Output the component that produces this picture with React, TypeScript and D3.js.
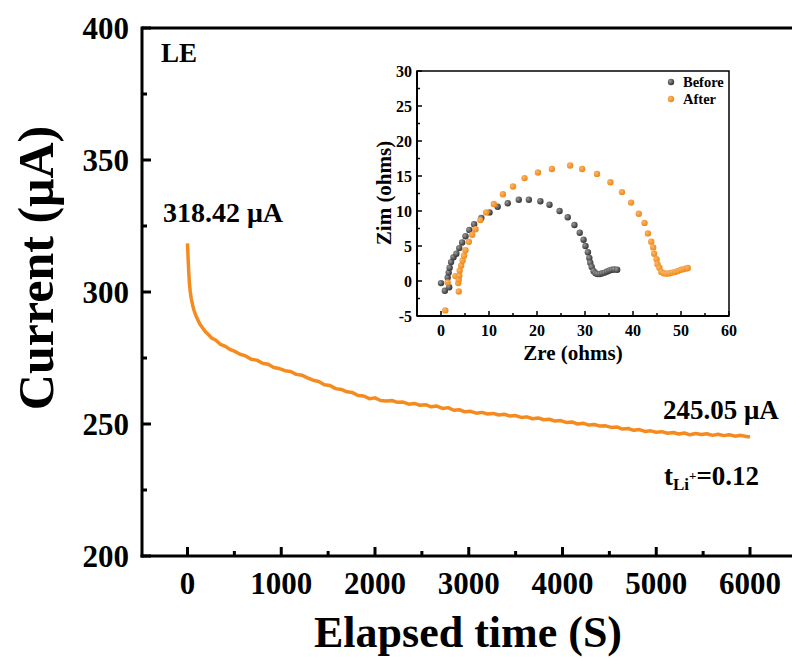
import React from "react";
import * as d3 from "d3";

const timeS = [0,5,10,15,20,30,40,55,70,90,110,130,160,190,220,260,300,350,400,450,500,560,620,680,740,800,860,920,980,1040,1100,1160,1220,1280,1340,1400,1460,1520,1580,1640,1700,1760,1820,1880,1940,2000,2060,2120,2180,2240,2300,2360,2420,2480,2540,2600,2660,2720,2780,2840,2900,2960,3020,3080,3140,3200,3260,3320,3380,3440,3500,3560,3620,3680,3740,3800,3860,3920,3980,4040,4100,4160,4220,4280,4340,4400,4460,4520,4580,4640,4700,4760,4820,4880,4940,5000,5060,5120,5180,5240,5300,5360,5420,5480,5540,5600,5660,5720,5780,5840,5900,5960,6000];
const currentUA = [318.42,314,310,306.5,303.5,300,297.5,295,293,291,289.5,288,286.5,285,284,282.5,281.8,280.2,279.5,278.3,277.6,276.4,275.8,274.5,274.2,273,272.6,271.4,271,270.2,269.9,268.8,268.5,267.5,266.6,266.1,264.9,264.6,263.4,263.1,262.2,261.9,260.8,260.6,259.6,259.9,258.9,258.7,258.9,258.2,258.3,257.5,257.8,257.1,257.3,256.5,256.8,255.9,256.2,255.2,255.4,254.6,254.8,254.1,254.4,253.8,254.0,253.4,253.7,253.0,253.2,252.5,252.7,252.0,252.3,251.6,251.8,251.1,251.3,250.6,250.8,250.0,250.3,249.6,249.8,249.2,249.3,248.7,248.9,248.1,248.3,247.6,247.9,247.2,247.4,246.9,247.1,246.5,246.8,246.2,246.6,245.9,246.4,246.0,246.3,245.7,246.1,245.6,245.9,245.4,245.7,245.3,245.05];

const xTicks = [0,1000,2000,3000,4000,5000,6000];
const yTicks = [200,250,300,350,400];

const beforeZre = [0,0.8,1.7,1.4,1.6,1.8,2.1,2.6,3.2,3.8,4.4,5.1,5.9,6.9,8.4,10.1,11.8,13.9,16.2,18.3,20.7,22.6,24.7,26.4,27.8,28.9,29.7,30.1,30.6,30.9,31.1,31.4,31.8,32.2,32.6,33.1,33.6,34.1,34.6,35.1,35.6,36.1,36.7];
const beforeZim = [-0.3,-1.4,-0.9,0.5,1.2,1.9,2.7,3.4,3.9,4.7,5.5,6.4,7.3,8.1,9.0,9.8,10.6,11.1,11.6,11.6,11.4,10.9,10.0,9.1,8.0,6.9,5.9,5.0,4.1,3.3,2.6,2.0,1.4,1.1,1.0,1.0,1.1,1.2,1.35,1.5,1.6,1.65,1.6];
const afterZre = [0.9,1.4,3.7,3.0,3.6,3.7,3.8,3.9,4.2,4.5,4.8,5.1,5.8,6.5,7.2,8.2,9.4,11.0,12.9,15.0,17.4,20.2,23.1,26.9,29.4,32.5,35.3,37.7,39.6,41.2,42.4,43.1,43.8,44.2,44.4,44.9,45.1,45.5,45.9,46.4,47.0,47.6,48.2,48.8,49.4,50.0,50.6,51.1,51.4];
const afterZim = [-4.2,-0.2,-1.5,0.7,-0.3,0.2,0.8,1.5,2.2,2.9,3.6,4.4,5.6,6.6,7.4,8.7,9.8,11.0,12.4,13.5,14.7,15.5,16.0,16.5,16.0,15.3,14.1,12.7,11.2,9.6,8.3,6.8,5.6,4.8,3.9,3.1,2.4,1.9,1.3,1.1,1.05,1.1,1.2,1.3,1.45,1.6,1.7,1.8,1.85];
const insetXTicks = [0,10,20,30,40,50,60];
const insetYTicks = [-5,0,5,10,15,20,25,30];

const FONT = "'Liberation Serif', 'Times New Roman', serif";
const ORANGE = "#F58B1F";

export default function App() {
  const x = d3.scaleLinear().domain([0, 6000]).range([187.5, 750]);
  const y = d3.scaleLinear().domain([200, 400]).range([556, 28]);
  const left = 142;
  const bottom = 556;
  const top = 28;
  const right = 800;

  const line = d3.line<number>()
    .x((_, i) => x(timeS[i]))
    .y((d) => y(d));

  const xMinor = d3.range(-500, 6600, 500).filter((v) => v % 1000 !== 0 && x(v) > left);
  const yMinor = [225, 275, 325, 375];

  const ix = d3.scaleLinear().domain([-5, 60]).range([417, 729]);
  const iy = d3.scaleLinear().domain([-5, 30]).range([316, 71]);
  const ixMinor = [-5, 5, 15, 25, 35, 45, 55];
  const iyMinor = d3.range(-2.5, 30, 5);

  return (
    <svg width={792} height={659} style={{ position: "absolute", left: 0, top: 0, background: "#fff" }} fontFamily={FONT}>
      <defs>
        <radialGradient id="gBefore" cx="35%" cy="35%" r="70%">
          <stop offset="0%" stopColor="#9a9a9a" />
          <stop offset="100%" stopColor="#2e2e2e" />
        </radialGradient>
        <radialGradient id="gAfter" cx="35%" cy="35%" r="70%">
          <stop offset="0%" stopColor="#fbb56a" />
          <stop offset="100%" stopColor="#f08510" />
        </radialGradient>
      </defs>
      <rect width={792} height={659} fill="#fff" />

      <path d={line(currentUA) || ""} fill="none" stroke={ORANGE} strokeWidth={3.5} strokeLinejoin="round" />

      <line x1={left} x2={right} y1={top} y2={top} stroke="#000" strokeWidth={3} />
      <line x1={left} x2={left} y1={top - 1.5} y2={bottom + 1.5} stroke="#000" strokeWidth={3} />
      <line x1={left - 1.5} x2={right} y1={bottom} y2={bottom} stroke="#000" strokeWidth={3} />

      {yTicks.map((t) => (
        <g key={"y" + t}>
          <line x1={left} x2={left + 9} y1={y(t)} y2={y(t)} stroke="#000" strokeWidth={3} />
          <text x={129} y={y(t) + 11} textAnchor="end" fontSize={31} fontWeight="bold">{t}</text>
        </g>
      ))}
      {yMinor.map((t) => (
        <line key={"ym" + t} x1={left} x2={left + 5} y1={y(t)} y2={y(t)} stroke="#000" strokeWidth={3} />
      ))}
      {xTicks.map((t) => (
        <g key={"x" + t}>
          <line x1={x(t)} x2={x(t)} y1={bottom} y2={bottom - 9} stroke="#000" strokeWidth={3} />
          <text x={x(t)} y={594} textAnchor="middle" fontSize={31} fontWeight="bold">{t}</text>
        </g>
      ))}
      {xMinor.map((t) => (
        <line key={"xm" + t} x1={x(t)} x2={x(t)} y1={bottom} y2={bottom - 5} stroke="#000" strokeWidth={3} />
      ))}

      <text x={468} y={647} textAnchor="middle" fontSize={44} fontWeight="bold">Elapsed time (S)</text>
      <text transform="translate(53,268) rotate(-90)" textAnchor="middle" fontSize={50} fontWeight="bold">Current (μA)</text>

      <text x={161} y={62} fontSize={27} fontWeight="bold">LE</text>
      <text x={163} y={222} fontSize={28} fontWeight="bold">318.42 μA</text>
      <text x={663} y={419} fontSize={27} fontWeight="bold">245.05 μA</text>
      <text x={664} y={485} fontSize={27} fontWeight="bold">
        t<tspan fontSize={17} dy={5}>Li</tspan><tspan fontSize={13} dy={-10}>+</tspan><tspan dy={5}>=0.12</tspan>
      </text>

      <g>
        {beforeZre.map((v, i) => (
          <circle key={"b" + i} cx={ix(v)} cy={iy(beforeZim[i])} r={3.2} fill="url(#gBefore)" />
        ))}
        {afterZre.map((v, i) => (
          <circle key={"a" + i} cx={ix(v)} cy={iy(afterZim[i])} r={3.2} fill="url(#gAfter)" />
        ))}
        <rect x={417} y={71} width={312} height={245} fill="none" stroke="#000" strokeWidth={1.5} />
        <line x1={417} x2={729} y1={316} y2={316} stroke="#000" strokeWidth={2} />
        <line x1={417} x2={417} y1={71} y2={316} stroke="#000" strokeWidth={2} />
        {insetYTicks.map((t) => (
          <g key={"iy" + t}>
            <line x1={417} x2={422} y1={iy(t)} y2={iy(t)} stroke="#000" strokeWidth={1.5} />
            <text x={412} y={iy(t) + 5.5} textAnchor="end" fontSize={16} fontWeight="bold">{t}</text>
          </g>
        ))}
        {iyMinor.map((t) => (
          <line key={"iym" + t} x1={417} x2={420} y1={iy(t)} y2={iy(t)} stroke="#000" strokeWidth={1.5} />
        ))}
        {insetXTicks.map((t) => (
          <g key={"ix" + t}>
            <line x1={ix(t)} x2={ix(t)} y1={316} y2={311} stroke="#000" strokeWidth={1.5} />
            <text x={ix(t)} y={336} textAnchor="middle" fontSize={16} fontWeight="bold">{t}</text>
          </g>
        ))}
        {ixMinor.map((t) => (
          <line key={"ixm" + t} x1={ix(t)} x2={ix(t)} y1={316} y2={313} stroke="#000" strokeWidth={1.5} />
        ))}
        <text x={573} y={360} textAnchor="middle" fontSize={21} fontWeight="bold">Zre (ohms)</text>
        <text transform="translate(391,193) rotate(-90)" textAnchor="middle" fontSize={21} fontWeight="bold">Zim (ohms)</text>

        <circle cx={671} cy={82} r={3.2} fill="url(#gBefore)" />
        <text x={683} y={87} fontSize={14.5} fontWeight="bold">Before</text>
        <circle cx={671} cy={99} r={3.2} fill="url(#gAfter)" />
        <text x={683} y={104} fontSize={14.5} fontWeight="bold">After</text>
      </g>
    </svg>
  );
}
